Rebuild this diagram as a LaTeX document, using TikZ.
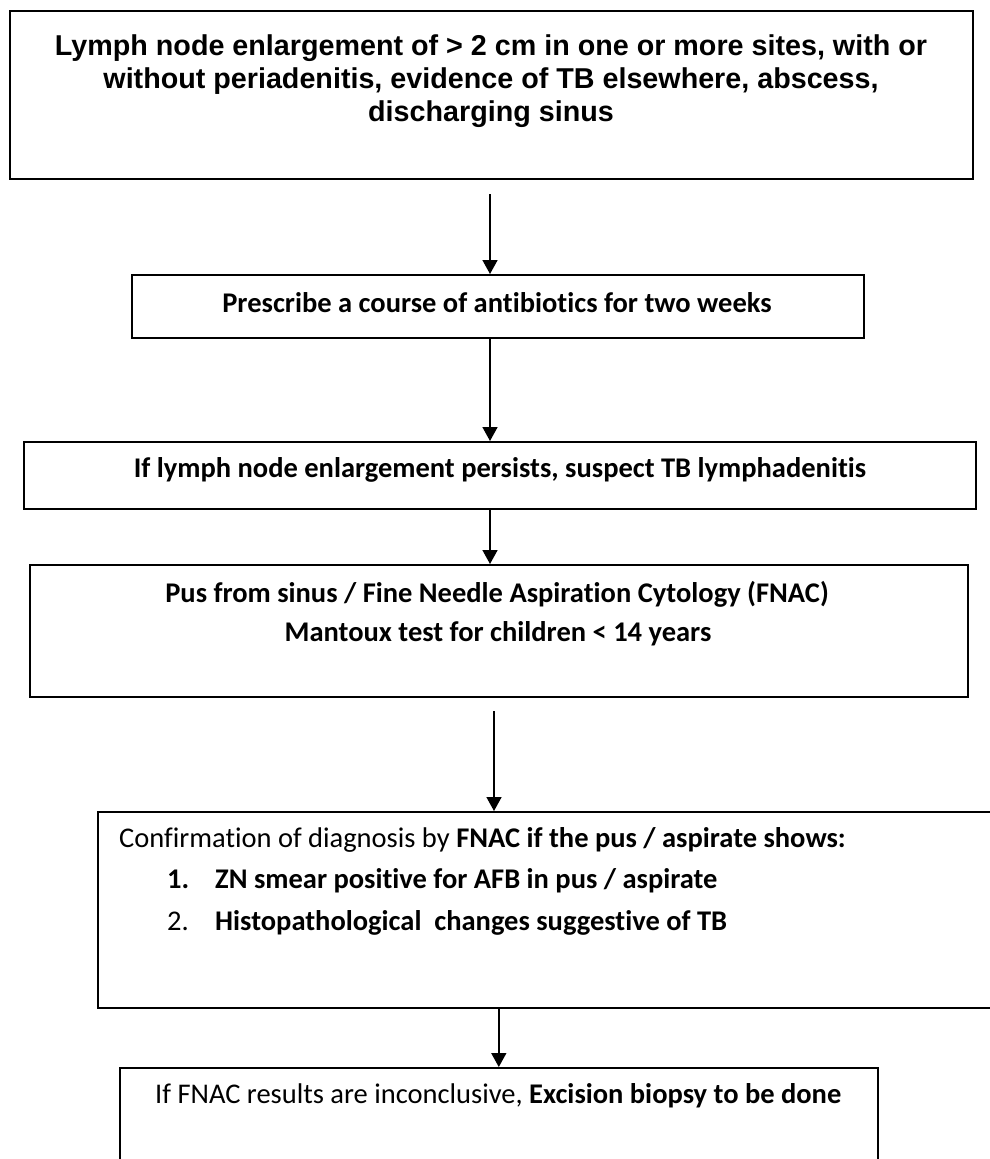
\documentclass[tikz,border=0pt]{standalone}
\usepackage{fontspec}
\setmainfont{Carlito}[Ligatures=NoCommon]
\newfontfamily\arialfont{Liberation Sans}
\usetikzlibrary{arrows.meta}

\tikzset{
  stepbox/.style={draw, line width=1.6pt, inner sep=0pt, anchor=north west},
  linetext/.style={inner sep=0pt, anchor=base, font=\fontsize{28.5}{33}\selectfont\bfseries},
  lefttext/.style={inner sep=0pt, anchor=base west, font=\fontsize{28.5}{33}\selectfont},
  flow/.style={line width=1.6pt, -{Triangle[width=15pt,length=14pt]}}
}

\begin{document}
\begin{tikzpicture}[x=1pt,y=-1pt]
  \useasboundingbox (0,0) rectangle (990,1159);
  \clip (0,0) rectangle (990,1159);

  % boxes
  \node[stepbox, minimum width=963pt, minimum height=168pt] (b1) at (9,10) {};
  \node[stepbox, minimum width=732pt, minimum height=63pt] (b2) at (131,274) {};
  \node[stepbox, minimum width=952pt, minimum height=67pt] (b3) at (23,441) {};
  \node[stepbox, minimum width=938pt, minimum height=132pt] (b4) at (29,564) {};
  \node[stepbox, minimum width=920pt, minimum height=196pt] (b5) at (97,811) {};
  \node[stepbox, minimum width=758pt, minimum height=130pt] (b6) at (119,1067) {};

  % texts
  \node[linetext, font=\arialfont\fontsize{28.7}{33}\selectfont\bfseries] (t1a) at (491,55)
    {Lymph node enlargement of > 2 cm in one or more sites, with or};
  \node[linetext, font=\arialfont\fontsize{28.7}{33}\selectfont\bfseries] (t1b) at (491,88)
    {without periadenitis, evidence of TB elsewhere, abscess,};
  \node[linetext, font=\arialfont\fontsize{28.7}{33}\selectfont\bfseries] (t1c) at (491,121)
    {discharging sinus};
  \node[linetext] (t2) at (497,312) {Prescribe a course of antibiotics for two weeks};
  \node[linetext] (t3) at (500,477) {If lymph node enlargement persists, suspect TB lymphadenitis};
  \node[linetext] (t4a) at (497,602) {Pus from sinus / Fine Needle Aspiration Cytology (FNAC)};
  \node[linetext] (t4b) at (498,641) {Mantoux test for children < 14 years};
  \node[lefttext] (t5a) at (119,847)
    {Confirmation of diagnosis by \textbf{FNAC if the pus / aspirate shows:}};
  \node[lefttext] (n5b) at (167,888) {\textbf{1.}};
  \node[lefttext] (t5b) at (215,888) {\textbf{ZN smear positive for AFB in pus / aspirate}};
  \node[lefttext] (n5c) at (167,930) {2.};
  \node[lefttext] (t5c) at (215,930) {\textbf{Histopathological\ \ changes suggestive of TB}};
  \node[lefttext] (t6) at (155,1103)
    {If FNAC results are inconclusive, \textbf{Excision biopsy to be done}};

  % arrows
  \coordinate (s1) at (490,194);
  \coordinate (s4) at (494,711);
  \draw[flow] (s1) -- (s1 |- b2.north);
  \draw[flow] (b2.south -| s1) -- (b3.north -| s1);
  \draw[flow] (b3.south -| s1) -- (b4.north -| s1);
  \draw[flow] (s4) -- (s4 |- b5.north);
  \draw[flow] (b5.south -| b6.north) -- (b6.north);
\end{tikzpicture}
\end{document}
